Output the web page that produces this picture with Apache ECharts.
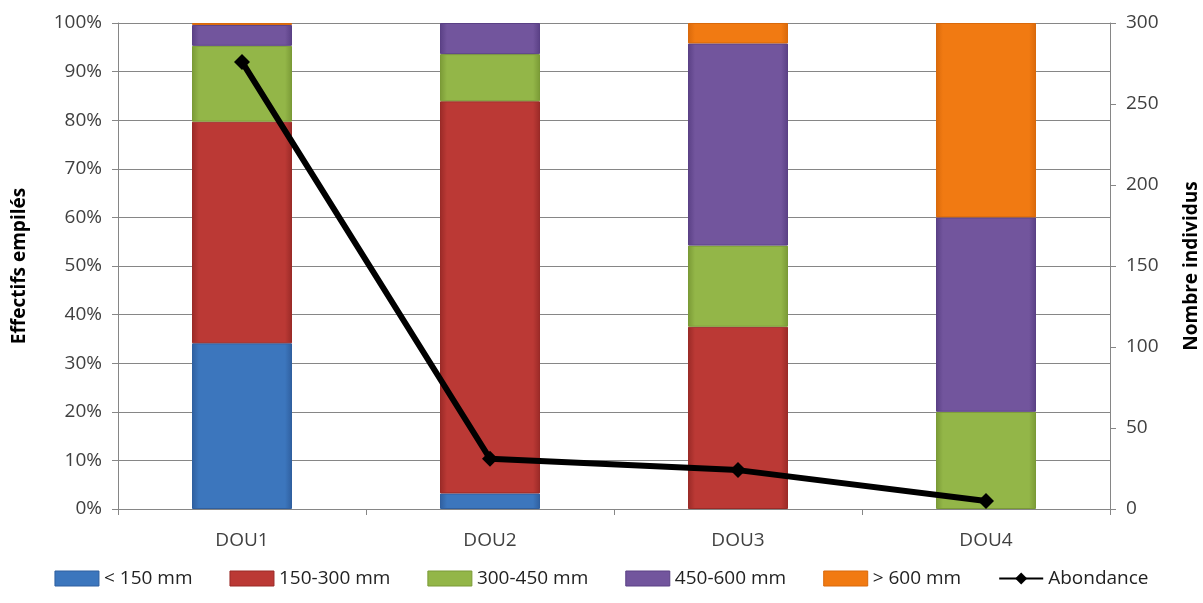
<!DOCTYPE html>
<html><head><meta charset="utf-8">
<script src="https://cdn.jsdelivr.net/npm/echarts@6/dist/echarts.min.js"></script>
<style>html,body{margin:0;padding:0;background:#fff}#c{width:1203px;height:603px}</style>
</head><body><div id="c"></div>
<script>
const categories = ['DOU1', 'DOU2', 'DOU3', 'DOU4'];
const seriesNames = ['< 150 mm', '150-300 mm', '300-450 mm', '450-600 mm', '> 600 mm'];
const lt150 = [34.1, 3.2, 0, 0];
const s150_300 = [45.6, 80.7, 37.5, 0];
const s300_450 = [15.6, 9.7, 16.7, 20];
const s450_600 = [4.3, 6.4, 41.6, 40];
const gt600 = [0.4, 0, 4.2, 40];
const abondance = [276, 31, 24, 5];
const leftTicks = [0, 10, 20, 30, 40, 50, 60, 70, 80, 90, 100];
const rightTicks = [0, 50, 100, 150, 200, 250, 300];

const colors = [
  ['#2f5f9f', '#3c76bd'],
  ['#9a2a27', '#bb3935'],
  ['#7a9a36', '#93b648'],
  ['#5a4085', '#72559d'],
  ['#d9690b', '#f17a12']
];
function grad(c) {
  return new echarts.graphic.LinearGradient(0, 0, 1, 0, [
    {offset: 0, color: c[0]}, {offset: 0.07, color: c[1]},
    {offset: 0.93, color: c[1]}, {offset: 1, color: c[0]}
  ]);
}
const barData = [lt150, s150_300, s300_450, s450_600, gt600];
const font = '"Open Sans", "DejaVu Sans", sans-serif';
const series = barData.map((d, i) => ({
  name: seriesNames[i], type: 'bar', stack: 'a',
  data: d.map(v => v === 0 ? '-' : v),
  barWidth: 100,
  itemStyle: {color: grad(colors[i]), borderColor: colors[i][0], borderWidth: 1},
  emphasis: {disabled: true}
}));
series.push({
  name: 'Abondance', type: 'line', yAxisIndex: 1, data: abondance,
  symbol: 'diamond', symbolSize: 16,
  lineStyle: {color: '#000', width: 6},
  itemStyle: {color: '#000'},
  z: 10
});
const chart = echarts.init(document.getElementById('c'));
chart.setOption({
  animation: false,
  grid: {left: 118, right: 93, top: 23, bottom: 94, containLabel: false, outerBoundsMode: 'none'},
  legend: {
    bottom: 10, left: 'center', itemWidth: 44, itemHeight: 15, itemGap: 37,
    textStyle: {fontFamily: font, fontSize: 19, color: '#222'},
    data: seriesNames.map((n, i) => ({name: n, icon: 'rect', itemStyle: {color: colors[i][1], borderColor: colors[i][0], borderWidth: 1}})).concat([{name: 'Abondance'}])
  },
  xAxis: {
    type: 'category', data: categories,
    axisLine: {lineStyle: {color: '#868686'}},
    axisTick: {show: true, alignWithLabel: false, length: 6, lineStyle: {color: '#868686'}},
    axisLabel: {fontFamily: font, fontSize: 19, color: '#404040', margin: 22}
  },
  yAxis: [{
    type: 'value', min: 0, max: 100, interval: 10,
    name: 'Effectifs empilés', nameLocation: 'middle', nameGap: 89, nameRotate: 90,
    nameTextStyle: {fontFamily: font, fontSize: 19, fontWeight: 'bold', color: '#000'},
    axisLine: {show: true, lineStyle: {color: '#868686'}},
    axisTick: {show: true, length: 6, lineStyle: {color: '#868686'}},
    axisLabel: {fontFamily: font, fontSize: 19, color: '#404040', margin: 16,
      formatter: v => leftTicks.includes(v) ? v + '%' : ''},
    splitLine: {show: true, lineStyle: {color: '#868686', width: 1}}
  }, {
    type: 'value', min: 0, max: 300, interval: 50,
    name: 'Nombre individus', nameLocation: 'middle', nameGap: 72, nameRotate: 90,
    nameTextStyle: {fontFamily: font, fontSize: 19, fontWeight: 'bold', color: '#000'},
    axisLine: {show: true, lineStyle: {color: '#868686'}},
    axisTick: {show: true, length: 6, lineStyle: {color: '#868686'}},
    axisLabel: {fontFamily: font, fontSize: 19, color: '#404040', margin: 16,
      formatter: v => rightTicks.includes(v) ? String(v) : ''},
    splitLine: {show: false}
  }],
  series: series
});
</script></body></html>
